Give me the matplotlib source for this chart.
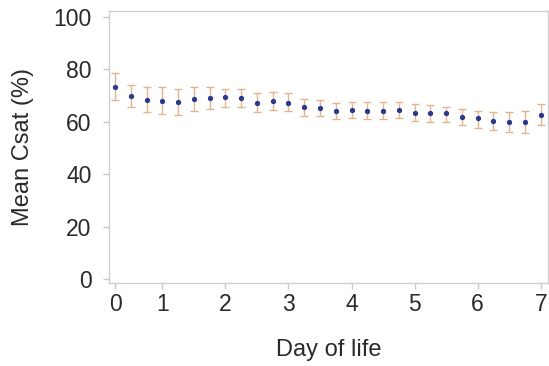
import numpy as np
from matplotlib import pyplot as plt

plt.rcParams['font.family'] = ['Liberation Sans', 'DejaVu Sans']

# hours of life, one reading every 6 h
hours = np.arange(6, 169, 6)
mean_csat = np.array([73.4, 69.8, 68.3, 68.1, 67.4, 68.7, 69.0, 69.3, 69.2, 67.3,
                      67.9, 67.3, 65.5, 65.4, 64.2, 64.5, 64.2, 64.2, 64.5, 63.5,
                      63.2, 63.2, 61.9, 61.3, 60.3, 60.0, 59.9, 62.6])
lower = np.array([68.3, 65.5, 63.6, 63.0, 62.6, 64.2, 64.8, 65.8, 65.5, 63.6,
                  64.5, 64.1, 62.2, 62.2, 61.0, 61.3, 61.0, 61.0, 61.3, 60.3,
                  60.0, 60.0, 58.8, 57.8, 56.9, 56.2, 55.8, 58.8])
upper = np.array([78.5, 74.2, 73.2, 73.4, 72.5, 73.3, 73.3, 72.6, 72.5, 70.9,
                  71.3, 70.9, 68.7, 68.3, 67.3, 67.6, 67.4, 67.4, 67.6, 66.7,
                  66.3, 65.8, 64.9, 64.2, 63.8, 63.8, 64.1, 66.7])

day_ticks = [6, 24, 48, 72, 96, 120, 144, 168]
day_labels = ['0', '1', '2', '3', '4', '5', '6', '7']

fig = plt.figure(figsize=(5.49, 3.66), dpi=100)
ax = fig.add_axes([0.1985, 0.2268, 0.7995, 0.7432])

yerr = np.vstack([mean_csat - lower, upper - mean_csat])
ax.errorbar(hours, mean_csat, yerr=yerr, fmt='o', ms=2.8, color='#2b3a8c',
            mfc='#2b3a8c', mec='#2b3a8c', ecolor='#e0b690', elinewidth=1.0,
            capsize=2.9, capthick=1.0)

ax.set_xlim(3.7, 170.7)
ax.set_ylim(-1.5, 102.3)
ax.set_xticks(day_ticks)
ax.set_xticklabels(day_labels)
ax.set_yticks([0, 20, 40, 60, 80, 100])

for s in ax.spines.values():
    s.set_color('#cfcfcf')
    s.set_linewidth(1.0)

ax.tick_params(axis='both', direction='out', length=4.5, width=1.0,
               color='#c8c8c8', labelsize=16.5, labelcolor='#2a2a2a')
ax.tick_params(axis='y', pad=8)
ax.tick_params(axis='x', pad=3)

ax.set_xlabel('Day of life', fontsize=17, color='#2a2a2a', labelpad=16)
ax.set_ylabel('Mean Csat (%)', fontsize=17, color='#2a2a2a', labelpad=14)

fig.savefig('out.png', dpi=100)
